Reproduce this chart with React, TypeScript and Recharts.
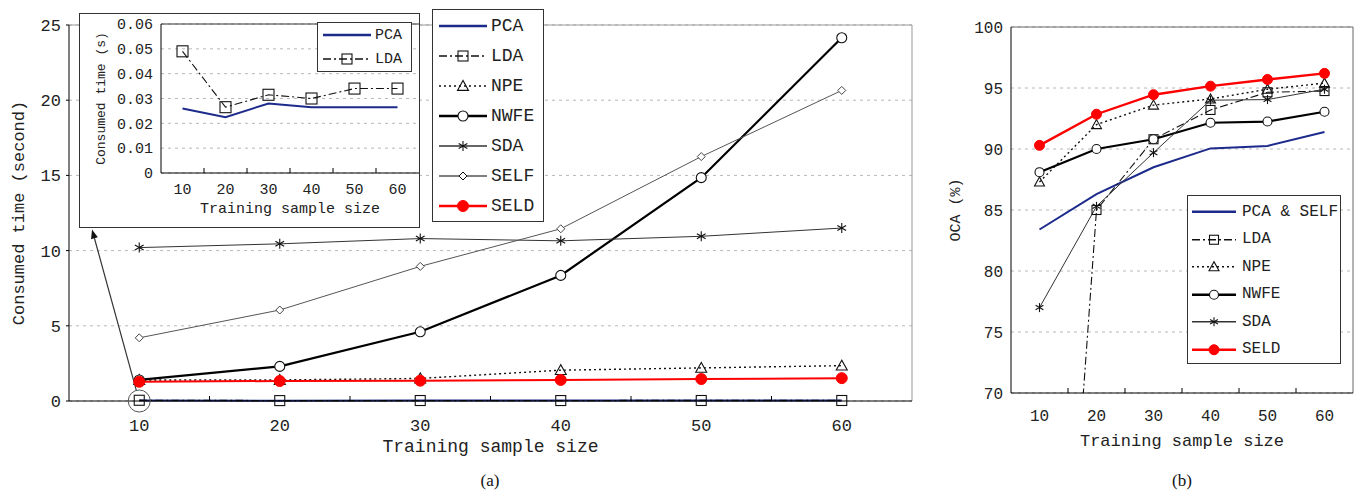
import React from 'react';
import { LineChart, Line, XAxis, YAxis, CartesianGrid, ReferenceLine, ReferenceDot, Legend } from 'recharts';

const MONO = "'Liberation Mono', 'DejaVu Sans Mono', monospace";
const SERIF = "'Liberation Serif', 'DejaVu Serif', serif";
const NAVY = '#1c2a8c';
const RED = '#ff0000';

// ---------- data ----------
const sampleSizes = [10, 20, 30, 40, 50, 60];
const xTickValues = [10, 15, 20, 25, 30, 35, 40, 45, 50, 55, 60];

// (a) consumed time (seconds)
const timePCA = [0.026, 0.0225, 0.028, 0.0265, 0.0265, 0.0265];
const timeLDA = [0.049, 0.0265, 0.0315, 0.030, 0.034, 0.034];
const timeNPE = [1.4, 1.4, 1.5, 2.05, 2.2, 2.35];
const timeNWFE = [1.4, 2.3, 4.6, 8.35, 14.85, 24.15];
const timeSDA = [10.2, 10.45, 10.8, 10.65, 10.95, 11.5];
const timeSELF = [4.2, 6.05, 8.95, 11.45, 16.25, 20.65];
const timeSELD = [1.28, 1.33, 1.35, 1.4, 1.46, 1.52];
const timeTicks = [0, 5, 10, 15, 20, 25];
const insetTicks = [0, 0.01, 0.02, 0.03, 0.04, 0.05, 0.06];

// (b) OCA (%)
const ocaPcaSelf = [83.4, 86.3, 88.5, 90.05, 90.25, 91.4];
const ocaLDA = [20, 85.0, 90.8, 93.2, 94.65, 94.75];
const ocaNPE = [87.3, 92.0, 93.6, 94.1, 94.9, 95.4];
const ocaNWFE = [88.1, 90.0, 90.8, 92.15, 92.25, 93.05];
const ocaSDA = [77.0, 85.3, 89.7, 94.0, 94.05, 94.9];
const ocaSELD = [90.3, 92.85, 94.45, 95.15, 95.7, 96.2];
const ocaTicks = [70, 75, 80, 85, 90, 95, 100];

const timeNames = ['PCA', 'LDA', 'NPE', 'NWFE', 'SDA', 'SELF', 'SELD'];
const insetNames = ['PCA', 'LDA'];
const ocaNames = ['PCA & SELF', 'LDA', 'NPE', 'NWFE', 'SDA', 'SELD'];

const timeData = sampleSizes.map((n, i) => ({
  n,
  PCA: timePCA[i],
  LDA: timeLDA[i],
  NPE: timeNPE[i],
  NWFE: timeNWFE[i],
  SDA: timeSDA[i],
  SELF: timeSELF[i],
  SELD: timeSELD[i],
}));

const ocaData = sampleSizes.map((n, i) => ({
  n,
  'PCA & SELF': ocaPcaSelf[i],
  LDA: ocaLDA[i],
  NPE: ocaNPE[i],
  NWFE: ocaNWFE[i],
  SDA: ocaSDA[i],
  SELD: ocaSELD[i],
}));

// ---------- styles ----------
type St = { stroke: string; width: number; dash?: string; marker: string };
const STYLES: Record<string, St> = {
  PCA: { stroke: NAVY, width: 2, marker: 'none' },
  'PCA & SELF': { stroke: NAVY, width: 2, marker: 'none' },
  LDA: { stroke: '#111', width: 1.3, dash: '8 3 2 3', marker: 'square' },
  NPE: { stroke: '#111', width: 1.4, dash: '2 3', marker: 'triangle' },
  NWFE: { stroke: '#000', width: 2.2, marker: 'circle' },
  SDA: { stroke: '#333', width: 1, marker: 'star' },
  SELF: { stroke: '#555', width: 1, marker: 'diamond' },
  SELD: { stroke: RED, width: 2, marker: 'dot' },
};

function Marker({ kind, cx, cy, s, color }: { kind: string; cx: number; cy: number; s: number; color: string }) {
  if (cx == null || cy == null || isNaN(cx) || isNaN(cy)) return <g />;
  const h = s / 2;
  switch (kind) {
    case 'square':
      return <rect x={cx - h} y={cy - h} width={s} height={s} fill="none" stroke={color} strokeWidth={1.1} />;
    case 'triangle':
      return (
        <polygon
          points={`${cx},${cy - h} ${cx - h},${cy + h * 0.8} ${cx + h},${cy + h * 0.8}`}
          fill="none"
          stroke={color}
          strokeWidth={1.1}
        />
      );
    case 'circle':
      return <circle cx={cx} cy={cy} r={h} fill="#fff" stroke={color} strokeWidth={1.1} />;
    case 'star':
      return (
        <g stroke={color} strokeWidth={1.1}>
          <line x1={cx} y1={cy - h} x2={cx} y2={cy + h} />
          <line x1={cx - h * 0.87} y1={cy - h * 0.5} x2={cx + h * 0.87} y2={cy + h * 0.5} />
          <line x1={cx - h * 0.87} y1={cy + h * 0.5} x2={cx + h * 0.87} y2={cy - h * 0.5} />
        </g>
      );
    case 'diamond':
      return (
        <polygon
          points={`${cx},${cy - h} ${cx + h},${cy} ${cx},${cy + h} ${cx - h},${cy}`}
          fill="#fff"
          stroke={color}
          strokeWidth={1}
        />
      );
    case 'dot':
      return <circle cx={cx} cy={cy} r={h} fill={color} stroke={color} />;
    default:
      return <g />;
  }
}

const dotFor = (name: string, s: number) => {
  const st = STYLES[name];
  if (st.marker === 'none') return false;
  return (p: any) => (
    <Marker key={`${name}-${p.index}`} kind={st.marker} cx={p.cx} cy={p.cy} s={s} color={st.stroke === '#555' ? '#444' : st.stroke === RED ? RED : '#111'} />
  );
};

const markerSizes: Record<string, number> = { square: 10, triangle: 11, circle: 10, star: 10, diamond: 8, dot: 11 };
const markerSizesB: Record<string, number> = { square: 9, triangle: 10, circle: 9, star: 9, diamond: 8, dot: 10 };

function Sample({ name, w, h, sizes }: { name: string; w: number; h: number; sizes: Record<string, number> }) {
  const st = STYLES[name];
  return (
    <svg width={w} height={h} style={{ display: 'block', flex: 'none' }}>
      <line x1={0} y1={h / 2} x2={w} y2={h / 2} stroke={st.stroke} strokeWidth={st.width + 0.3} strokeDasharray={st.dash} />
      {st.marker !== 'none' && (
        <Marker kind={st.marker} cx={w / 2} cy={h / 2} s={sizes[st.marker]} color={st.stroke === RED ? RED : '#111'} />
      )}
    </svg>
  );
}

function LegendBox({
  names, width, rowH, padTop, padLeft, sampleW, gap, fontSize, sizes,
}: {
  names: string[]; width: number; rowH: number; padTop: number; padLeft: number; sampleW: number; gap: number; fontSize: number; sizes: Record<string, number>;
}) {
  return (
    <div
      style={{
        border: '1px solid #333',
        background: '#fff',
        width,
        boxSizing: 'border-box',
        paddingTop: padTop,
        paddingLeft: padLeft,
      }}
    >
      {names.map((n) => (
        <div key={n} style={{ display: 'flex', alignItems: 'center', height: rowH }}>
          <Sample name={n} w={sampleW} h={rowH} sizes={sizes} />
          <span style={{ fontFamily: MONO, fontSize, color: '#222', marginLeft: gap, whiteSpace: 'pre', lineHeight: 1 }}>{n}</span>
        </div>
      ))}
    </div>
  );
}

const makeXTick = (fontSize: number, baseline: number, tickLen: number) => (props: any) => {
  const { x, y, payload, index } = props;
  const v = payload.value;
  if (v % 10 === 0) {
    return (
      <text key={`t${index}`} x={x} y={y + baseline} textAnchor="middle" fontSize={fontSize} fontFamily={MONO} fill="#222">
        {v}
      </text>
    );
  }
  return <line key={`t${index}`} x1={x} x2={x} y1={y} y2={y - tickLen} stroke="#000" strokeWidth={1} />;
};

const arrowShape = (p: any) => {
  const { x1, y1, x2, y2 } = p;
  const dx = x2 - x1;
  const dy = y2 - y1;
  const len = Math.hypot(dx, dy) || 1;
  const ux = dx / len;
  const uy = dy / len;
  const sx = x1 + ux * 11;
  const sy = y1 + uy * 11;
  const hl = 9;
  const hw = 3.5;
  const bx = x2 - ux * hl;
  const by = y2 - uy * hl;
  const px = -uy;
  const py = ux;
  return (
    <g>
      <line x1={sx} y1={sy} x2={bx} y2={by} stroke="#333" strokeWidth={1.2} />
      <polygon points={`${x2},${y2} ${bx + px * hw},${by + py * hw} ${bx - px * hw},${by - py * hw}`} fill="#111" />
    </g>
  );
};

const drawOrderA = ['PCA', 'LDA', 'NPE', 'NWFE', 'SDA', 'SELF', 'SELD'];
const drawOrderB = ['PCA & SELF', 'LDA', 'NPE', 'NWFE', 'SDA', 'SELD'];

export default function App() {
  return (
    <div style={{ position: 'absolute', left: 0, top: 0, width: 1355, height: 490, background: '#fff', overflow: 'hidden' }}>
      {/* (a) main chart */}
      <div style={{ position: 'absolute', left: 0, top: 0 }}>
        <LineChart width={930} height={490} data={timeData} margin={{ top: 25, right: 18, bottom: 29, left: 0 }}>
          <CartesianGrid vertical={false} stroke="#b8b8b8" strokeDasharray="3 4" />
          <XAxis
            dataKey="n"
            type="number"
            domain={[5, 65]}
            ticks={xTickValues}
            interval={0}
            tickSize={0}
            tickMargin={0}
            tick={makeXTick(17, 30, 5)}
            stroke="#000"
            height={60}
            label={{ value: 'Training sample size', position: 'insideBottom', offset: 9, fontFamily: MONO, fontSize: 18, fill: '#222' }}
          />
          <YAxis
            type="number"
            domain={[0, 25]}
            ticks={timeTicks}
            interval={0}
            width={69}
            stroke="#000"
            tickSize={3}
            tickMargin={5}
            tick={{ fontFamily: MONO, fontSize: 17, fill: '#222' }}
            label={{ value: 'Consumed time (second)', angle: -90, position: 'insideLeft', offset: 18, fontFamily: MONO, fontSize: 17, fill: '#222', style: { textAnchor: 'middle' } }}
          />
          <ReferenceLine y={25} stroke="#999" />
          <ReferenceLine x={65} stroke="#999" />
          {drawOrderA.map((n) => (
            <Line
              key={n}
              dataKey={n}
              stroke={STYLES[n].stroke}
              strokeWidth={STYLES[n].width}
              strokeDasharray={STYLES[n].dash}
              dot={dotFor(n, markerSizes[STYLES[n].marker])}
              activeDot={false}
              isAnimationActive={false}
            />
          ))}
          <ReferenceDot x={10} y={0} r={11} fill="none" stroke="#555" strokeWidth={1} ifOverflow="visible" />
          <ReferenceLine segment={[{ x: 10, y: 0 }, { x: 6.64, y: 11.4 }]} shape={arrowShape} ifOverflow="visible" />
          <Legend
            layout="vertical"
            align="center"
            verticalAlign="middle"
            wrapperStyle={{ left: 432, top: 9, width: 112 }}
            content={() => (
              <LegendBox names={timeNames} width={112} rowH={30} padTop={1} padLeft={6} sampleW={48} gap={4} fontSize={18} sizes={markerSizes} />
            )}
          />
        </LineChart>
      </div>

      {/* inset */}
      <div
        style={{
          position: 'absolute',
          left: 79,
          top: 13,
          width: 341,
          height: 215,
          border: '1px solid #333',
          background: '#fff',
          boxSizing: 'border-box',
        }}
      >
        <LineChart width={339} height={213} data={timeData} margin={{ top: 10, right: 0, bottom: 0, left: 0 }}>
          <CartesianGrid vertical={false} stroke="#b8b8b8" strokeDasharray="3 4" />
          <XAxis
            dataKey="n"
            type="number"
            domain={[5, 65]}
            ticks={xTickValues}
            interval={0}
            tickSize={0}
            tickMargin={0}
            tick={makeXTick(15, 21, 5)}
            stroke="#000"
            height={54}
            label={{ value: 'Training sample size', position: 'insideBottom', offset: 14, fontFamily: MONO, fontSize: 15, fill: '#222' }}
          />
          <YAxis
            type="number"
            domain={[0, 0.06]}
            ticks={insetTicks}
            interval={0}
            width={81}
            stroke="#000"
            tickLine={false}
            tickSize={0}
            tickMargin={8}
            tickFormatter={(v: number) => (v === 0 ? '0' : v.toFixed(2))}
            tick={{ fontFamily: MONO, fontSize: 15, fill: '#222' }}
            label={{ value: 'Consumed time (s)', angle: -90, position: 'insideLeft', offset: 20, fontFamily: MONO, fontSize: 13, fill: '#222', style: { textAnchor: 'middle' } }}
          />
          <ReferenceLine y={0.06} stroke="#333" />
          {insetNames.map((n) => (
            <Line
              key={n}
              dataKey={n}
              stroke={STYLES[n].stroke}
              strokeWidth={n === 'LDA' ? 1.1 : 2}
              strokeDasharray={STYLES[n].dash}
              dot={dotFor(n, 11)}
              activeDot={false}
              isAnimationActive={false}
            />
          ))}
          <Legend
            layout="vertical"
            align="center"
            verticalAlign="middle"
            wrapperStyle={{ left: 237, top: 8, width: 95 }}
            content={() => (
              <LegendBox names={insetNames} width={95} rowH={24} padTop={0} padLeft={5} sampleW={48} gap={4} fontSize={15} sizes={{ ...markerSizes, square: 10 }} />
            )}
          />
        </LineChart>
      </div>

      {/* (b) */}
      <div style={{ position: 'absolute', left: 940, top: 0 }}>
        <LineChart width={415} height={490} data={ocaData} margin={{ top: 27, right: 2, bottom: 37, left: 0 }}>
          <CartesianGrid vertical={false} stroke="#b8b8b8" strokeDasharray="3 4" />
          <XAxis
            dataKey="n"
            type="number"
            domain={[5, 65]}
            ticks={xTickValues}
            interval={0}
            tickSize={0}
            tickMargin={0}
            tick={makeXTick(16, 28, 5)}
            stroke="#000"
            height={60}
            label={{ value: 'Training sample size', position: 'insideBottom', offset: 7, fontFamily: MONO, fontSize: 17, fill: '#222' }}
          />
          <YAxis
            type="number"
            domain={[70, 100]}
            allowDataOverflow
            ticks={ocaTicks}
            interval={0}
            width={71}
            stroke="#000"
            tickLine={false}
            tickSize={0}
            tickMargin={8}
            tick={{ fontFamily: MONO, fontSize: 16, fill: '#222' }}
            label={{ value: 'OCA (%)', angle: -90, position: 'insideLeft', offset: 15, fontFamily: MONO, fontSize: 15, fill: '#222', style: { textAnchor: 'middle' } }}
          />
          <ReferenceLine y={100} stroke="#666" />
          <ReferenceLine x={65} stroke="#666" />
          {drawOrderB.map((n) => (
            <Line
              key={n}
              dataKey={n}
              stroke={STYLES[n].stroke}
              strokeWidth={n === 'SELD' ? 2.4 : n === 'LDA' ? 1.1 : STYLES[n].width}
              strokeDasharray={STYLES[n].dash}
              dot={dotFor(n, markerSizesB[STYLES[n].marker])}
              activeDot={false}
              isAnimationActive={false}
            />
          ))}
          <Legend
            layout="vertical"
            align="center"
            verticalAlign="middle"
            wrapperStyle={{ left: 247, top: 195, width: 154 }}
            content={() => (
              <LegendBox names={ocaNames} width={154} rowH={27.5} padTop={2} padLeft={4} sampleW={44} gap={6} fontSize={16} sizes={markerSizesB} />
            )}
          />
        </LineChart>
      </div>

      <div style={{ position: 'absolute', left: 0, width: 980, top: 472, height: 18, textAlign: 'center', fontFamily: SERIF, fontSize: 17, lineHeight: '18px', color: '#111' }}>
        (a)
      </div>
      <div style={{ position: 'absolute', left: 1132, width: 100, top: 472, height: 18, textAlign: 'center', fontFamily: SERIF, fontSize: 17, lineHeight: '18px', color: '#111' }}>
        (b)
      </div>
    </div>
  );
}
